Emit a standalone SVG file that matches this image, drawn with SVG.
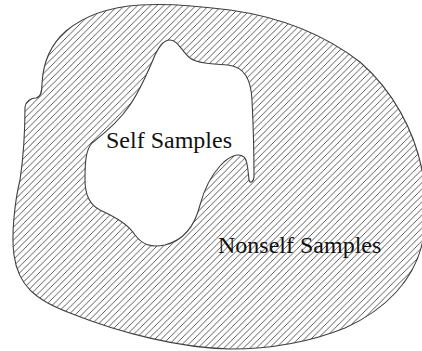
<svg xmlns="http://www.w3.org/2000/svg" width="422" height="351" viewBox="0 0 422 351">
<style>
.outline{stroke:#404040;stroke-width:1.1;fill:url(#hatch);fill-rule:evenodd}
.lbl{font-family:"Liberation Serif","Times New Roman",serif;font-size:24px;fill:#111}
</style>
<defs>
<pattern id="hatch" patternUnits="userSpaceOnUse" width="6.5" height="6.5">
<path d="M-1,7.5 L7.5,-1" stroke="#303030" stroke-width="0.8"/>
</pattern>
</defs>
<rect width="422" height="351" fill="#fff"/>
<g id="nonself-region">
<path class="outline" d="M25,107 C26,101 31,98 36,98 C41,97 42,92 42,84 C43,62 50,45 66,31 C84,16 110,7 140,5 C170,3 200,6 230,10 C280,17 325,35 360,62 C392,90 415,130 423,175 L423,240 C415,280 385,310 345,328 C310,342 270,349 230,349 C180,348 120,333 70,313 C35,300 18,285 14,255 C11,235 15,200 20,180 C23,160 25,130 25,107 Z M170,40 C178,40 182,52 190,58 C197,63 210,64 228,65 C245,67 251,80 252,100 C253,120 254,150 254,176 C254,182 250,184 249,180 C248,172 248,160 244,157 C238,152 228,157 220,166 C210,177 204,190 200,205 C195,225 185,240 165,245 C150,248 142,244 135,235 C128,224 115,217 100,210 C90,205 85,195 85,180 C85,160 86,150 92,143 C105,133 120,120 130,105 C140,90 148,72 155,55 C160,45 164,40 170,40 Z"/>
</g>
<g id="self-label"><text class="lbl" x="106" y="148">Self Samples</text></g>
<g id="nonself-label"><text class="lbl" x="218" y="253">Nonself Samples</text></g>
</svg>
